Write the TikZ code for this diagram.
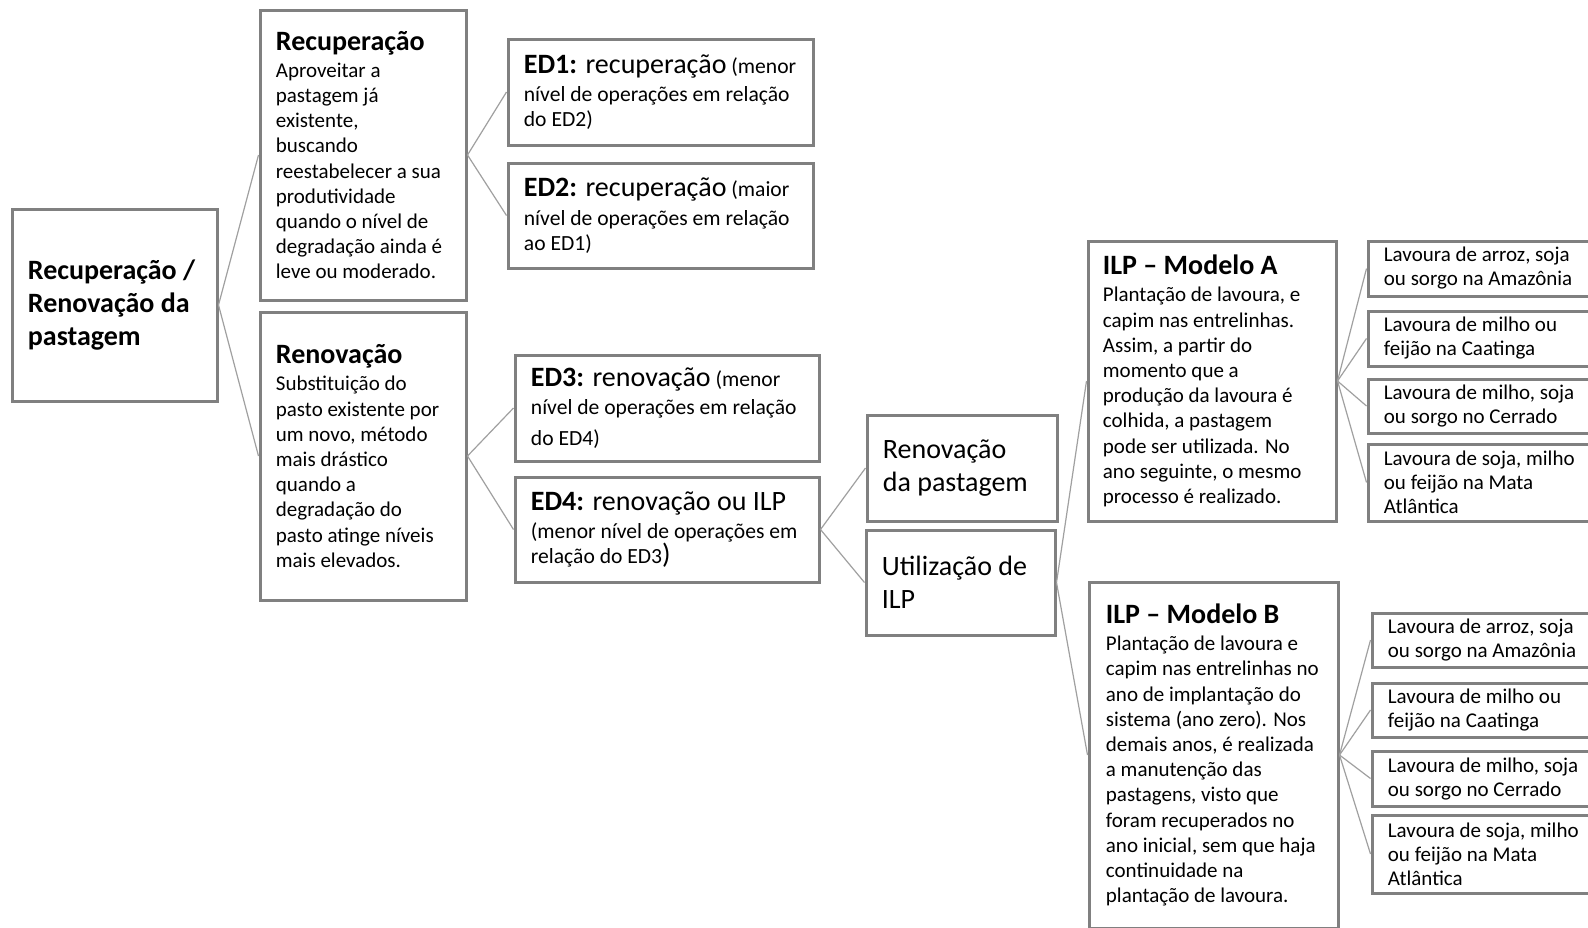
\documentclass[tikz,border=0pt]{standalone}
\usepackage{fontspec}
\setmainfont{Carlito}
\definecolor{boxgray}{RGB}{128,128,128}
\definecolor{linegray}{RGB}{160,160,160}
\newcommand{\bodyf}{\fontsize{10.5}{12.6}\selectfont}
\newcommand{\edf}{\fontsize{10.8}{12.4}\selectfont}
\newcommand{\subf}{\fontsize{10.5}{12}\selectfont}
\newcommand{\bigf}{\fontsize{14}{16.7}\selectfont}
\begin{document}
\begin{tikzpicture}[x=0.5pt,y=-0.5pt,
  box/.style={draw=boxgray, line width=1.5pt, fill=white, rectangle, inner sep=0pt},
  txt/.style={anchor=west, align=left, inner sep=0pt, text=black},
  link/.style={draw=linegray, line width=0.6pt}]
\useasboundingbox (0,0) rectangle (1588,927);
\fill[white] (0,0) rectangle (1588,927);
\clip (0,0) rectangle (1588,927);

% boxes
\node[box, minimum width=102.5pt, minimum height=96pt] (root) at (114.5,305) {};
\node[box, minimum width=103pt, minimum height=145pt] (rec) at (363,155) {};
\node[box, minimum width=103pt, minimum height=144pt] (ren) at (363,456) {};
\node[box, minimum width=152.5pt, minimum height=53pt] (ed1) at (660.5,92) {};
\node[box, minimum width=152.5pt, minimum height=52.5pt] (ed2) at (660.5,215.5) {};
\node[box, minimum width=152pt, minimum height=53pt] (ed3) at (667,408) {};
\node[box, minimum width=152pt, minimum height=52.5pt] (ed4) at (667,529.5) {};
\node[box, minimum width=95pt, minimum height=53pt] (renp) at (962,468) {};
\node[box, minimum width=94.5pt, minimum height=52.5pt] (util) at (960.5,582.5) {};
\node[box, minimum width=124pt, minimum height=140pt] (ma) at (1212,381) {};
\node[box, minimum width=124.5pt, minimum height=173pt] (mb) at (1213.5,755) {};
\node[box, minimum width=121pt, minimum height=27.5pt] (a1) at (1489,268.5) {};
\node[box, minimum width=121pt, minimum height=27.5pt] (a2) at (1489,338.5) {};
\node[box, minimum width=121pt, minimum height=27pt] (a3) at (1489,406) {};
\node[box, minimum width=121pt, minimum height=38.5pt] (a4) at (1489,482.5) {};
\node[box, minimum width=119pt, minimum height=27pt] (b1) at (1491,640) {};
\node[box, minimum width=119pt, minimum height=27pt] (b2) at (1491,710) {};
\node[box, minimum width=119pt, minimum height=27.5pt] (b3) at (1491,778.5) {};
\node[box, minimum width=119pt, minimum height=39pt] (b4) at (1491,854) {};

% connectors
\draw[link] (root.east) -- (rec.west);
\draw[link] (root.east) -- (ren.west);
\draw[link] (rec.east) -- (ed1.west);
\draw[link] (rec.east) -- (ed2.west);
\draw[link] (ren.east) -- (ed3.west);
\draw[link] (ren.east) -- (ed4.west);
\draw[link] (ed4.east) -- (renp.west);
\draw[link] (ed4.east) -- (util.west);
\draw[link] (util.east) -- (ma.west);
\draw[link] (util.east) -- (mb.west);
\foreach \s in {a1,a2,a3,a4} \draw[link] (ma.east) -- (\s.west);
\foreach \s in {b1,b2,b3,b4} \draw[link] (mb.east) -- (\s.west);

% texts
\node[txt, font=\bigf\bfseries] (root-t) at ([xshift=8.5pt]root.west) {Recuperação /\\Renovação da\\pastagem};
\node[txt, font=\bodyf] (rec-t) at ([xshift=8.5pt]rec.west) {{\bigf\bfseries Recuperação}\\[1pt]Aproveitar a\\pastagem já\\existente,\\buscando\\reestabelecer a sua\\produtividade\\quando o nível de\\degradação ainda é\\leve ou moderado.};
\node[txt, font=\bodyf] (ren-t) at ([xshift=8.5pt]ren.west) {{\bigf\bfseries Renovação}\\[1pt]Substituição do\\pasto existente por\\um novo, método\\mais drástico\\quando a\\degradação do\\pasto atinge níveis\\mais elevados.};
\node[txt, font=\edf] (ed1-t) at ([xshift=8.5pt]ed1.west) {{\bigf\textbf{ED1:} recuperação} (menor\\[2pt]nível de operações em relação\\do ED2)};
\node[txt, font=\edf] (ed2-t) at ([xshift=8.5pt]ed2.west) {{\bigf\textbf{ED2:} recuperação} (maior\\[2pt]nível de operações em relação\\ao ED1)};
\node[txt, font=\edf] (ed3-t) at ([xshift=8.5pt]ed3.west) {{\bigf\textbf{ED3:} renovação} (menor\\[2pt]nível de operações em relação\\[3pt]do ED4)};
\node[txt, font=\edf] (ed4-t) at ([xshift=8.5pt]ed4.west) {{\bigf\textbf{ED4:} renovação ou ILP}\\[2pt](menor nível de operações em\\relação do ED3{\bigf)}};
\node[txt, font=\bigf] (renp-t) at ([xshift=8.5pt]renp.west) {Renovação\\da pastagem};
\node[txt, font=\bigf] (util-t) at ([xshift=8.5pt]util.west) {Utilização de\\ILP};
\node[txt, font=\bodyf] (ma-t) at ([xshift=8pt]ma.west) {{\bigf\bfseries ILP – Modelo A}\\[1pt]Plantação de lavoura, e\\capim nas entrelinhas.\\Assim, a partir do\\momento que a\\produção da lavoura é\\colhida, a pastagem\\pode ser utilizada. No\\ano seguinte, o mesmo\\processo é realizado.};
\node[txt, font=\bodyf] (mb-t) at ([xshift=9pt]mb.west) {{\bigf\bfseries ILP – Modelo B}\\[1pt]Plantação de lavoura e\\capim nas entrelinhas no\\ano de implantação do\\sistema (ano zero). Nos\\demais anos, é realizada\\a manutenção das\\pastagens, visto que\\foram recuperados no\\ano inicial, sem que haja\\continuidade na\\plantação de lavoura.};
\node[txt, font=\subf] (a1-t) at ([xshift=8.5pt]a1.west) {Lavoura de arroz, soja\\ou sorgo na Amazônia};
\node[txt, font=\subf] (a2-t) at ([xshift=8.5pt]a2.west) {Lavoura de milho ou\\feijão na Caatinga};
\node[txt, font=\subf] (a3-t) at ([xshift=8.5pt]a3.west) {Lavoura de milho, soja\\ou sorgo no Cerrado};
\node[txt, font=\subf] (a4-t) at ([xshift=8.5pt]a4.west) {Lavoura de soja, milho\\ou feijão na Mata\\Atlântica};
\node[txt, font=\subf] (b1-t) at ([xshift=8.5pt]b1.west) {Lavoura de arroz, soja\\ou sorgo na Amazônia};
\node[txt, font=\subf] (b2-t) at ([xshift=8.5pt]b2.west) {Lavoura de milho ou\\feijão na Caatinga};
\node[txt, font=\subf] (b3-t) at ([xshift=8.5pt]b3.west) {Lavoura de milho, soja\\ou sorgo no Cerrado};
\node[txt, font=\subf] (b4-t) at ([xshift=8.5pt]b4.west) {Lavoura de soja, milho\\ou feijão na Mata\\Atlântica};
\end{tikzpicture}
\end{document}
